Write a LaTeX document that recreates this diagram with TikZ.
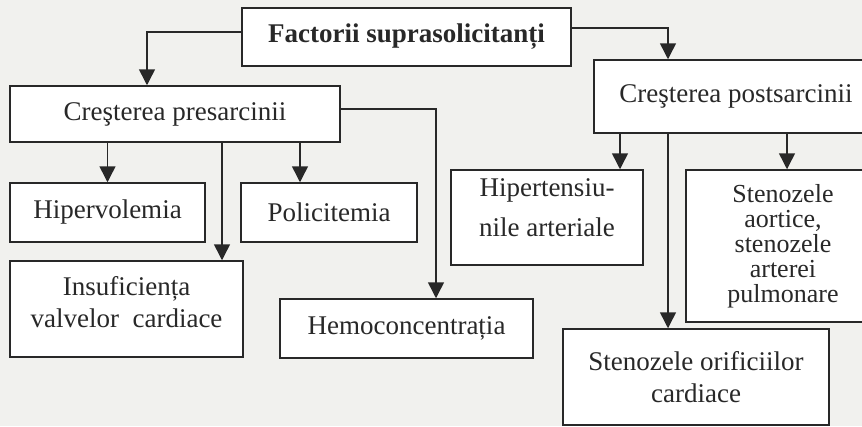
\documentclass[tikz,border=0pt]{standalone}
\usepackage{fontspec}
\setmainfont{Liberation Serif}
\usetikzlibrary{arrows.meta}
\definecolor{paper}{RGB}{241,241,238}
\definecolor{ink}{RGB}{40,40,40}
\tikzset{
  box/.style={draw=ink, line width=1.5pt, fill=white, inner sep=0pt,
              align=center, text=ink, font=\fontsize{27}{27}\selectfont},
  arr/.style={draw=ink, line width=1.5pt,
              -{Triangle[width=16pt,length=16pt]}},
}
\begin{document}
\begin{tikzpicture}[x=1pt, y=-1pt]
  % page
  \fill[paper] (0,0) rectangle (862,426);
  \useasboundingbox (0,0) rectangle (862,426);
  \begin{scope}
  \clip (0,0) rectangle (862,426);

  % boxes
  \node[box, minimum width=329pt, minimum height=58pt,
        font=\bfseries\fontsize{27}{27}\selectfont] (top) at (406.5,37) {Factorii suprasolicitanți};
  \node[box, minimum width=330pt, minimum height=56pt] (pre)  at (175,114) {Creşterea presarcinii};
  \node[box, minimum width=284pt, minimum height=73pt] (post) at (736,96.5) {Creşterea postsarcinii};

  \node[box, minimum width=195pt, minimum height=59pt] (hvol) at (107.5,212.5) {Hipervolemia};
  \node[box, minimum width=176pt, minimum height=59pt] (pol)  at (329,212.5) {Policitemia};
  \node[box, minimum width=233pt, minimum height=96pt,
        font=\fontsize{27}{32}\selectfont] (ins)  at (126.5,309) {Insuficiența\\valvelor\ \ cardiace\rule[-14pt]{0pt}{0pt}};
  \node[box, minimum width=253pt, minimum height=59pt] (hemo) at (406.5,328.5) {Hemoconcentrația};

  \node[box, minimum width=192pt, minimum height=95pt,
        font=\fontsize{27}{40}\selectfont] (hta)  at (547,217.5) {Hipertensiu-\\nile arteriale\rule[-20pt]{0pt}{0pt}};
  \node[box, minimum width=194pt, minimum height=152pt,
        font=\fontsize{26}{25}\selectfont] (sao)  at (783,246) {Stenozele\\aortice,\\stenozele\\arterei\\pulmonare};
  \node[box, minimum width=266pt, minimum height=96pt,
        font=\fontsize{27}{32}\selectfont] (sor)  at (696,377) {Stenozele orificiilor\\cardiace};

  % attachment points
  \coordinate (cPre)  at ([xshift=-28pt]pre.north);
  \coordinate (cPost) at ([xshift=-68pt]post.north);
  \coordinate (cPol)  at ([xshift=-29pt]pol.north);
  \coordinate (cIns)  at ([xshift=95.5pt]ins.north);
  \coordinate (cHemo) at ([xshift=29.5pt]hemo.north);
  \coordinate (cHta)  at ([xshift=73pt]hta.north);
  \coordinate (cSao)  at ([xshift=4pt]sao.north);
  \coordinate (cSor)  at ([xshift=-28pt]sor.north);

  % connectors
  \draw[arr] ([yshift=5pt]top.west) -| (cPre);
  \draw[arr] ([yshift=9pt]top.east) -| (cPost);

  \draw[arr] (pre.south -| hvol.north) -- (hvol.north);
  \draw[arr] (cPol |- pre.south) -- (cPol);
  \draw[arr] (cIns |- pre.south) -- (cIns);
  \draw[arr] ([yshift=5pt]pre.east) -| (cHemo);

  \draw[arr] (cHta |- post.south) -- (cHta);
  \draw[arr] (cSao |- post.south) -- (cSao);
  \draw[arr] (cSor |- post.south) -- (cSor);
  \end{scope}
\end{tikzpicture}
\end{document}
